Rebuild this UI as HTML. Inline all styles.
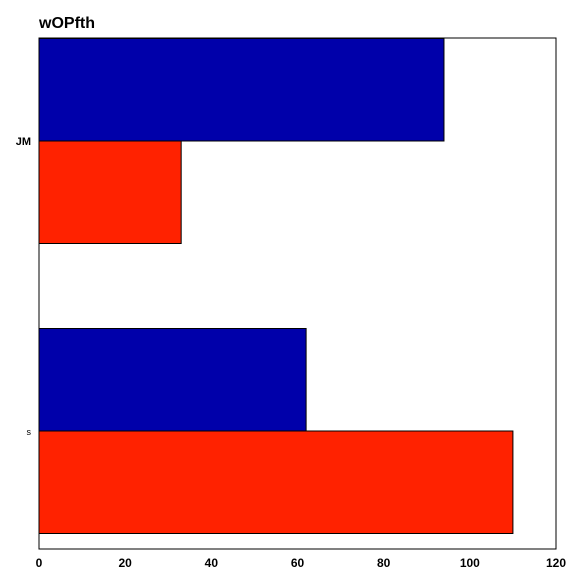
<!DOCTYPE html>
<html><head><meta charset="utf-8"><style>
body{margin:0;background:#fff;}
svg{display:block;font-family:"Liberation Sans",Arial,sans-serif;}
</style></head><body>
<svg id="chart" width="584" height="584">
<text x="39" y="28" font-size="16" font-weight="bold">wOPfth</text>
<g id="bars"></g>
<rect x="39" y="38" width="517" height="511" fill="none" stroke="#000" stroke-width="1"/>
<g id="xt"></g><g id="yt"></g>
</svg>
<script>
const categories = ["JM", "s"];
const seriesBlue = [94, 62];
const seriesRed = [33, 110];
const xTicks = [0, 20, 40, 60, 80, 100, 120];
const X0 = 39, X1 = 556, Y0 = 38, Y1 = 549;
const xMax = 120;
const xs = v => X0 + v / xMax * (X1 - X0);
const bandH = (Y1 - Y0) / (categories.length - 0.24);
const cy = i => Y0 + 103 + i * 290;
const ns = "http://www.w3.org/2000/svg";
const bars = document.getElementById('bars');
const bh = 102.5;
categories.forEach((c, i) => {
  [[seriesBlue, '#0000aa', -bh, 'blue'], [seriesRed, '#ff2200', 0, 'red']].forEach(([arr, col, off, nm]) => {
    const r = document.createElementNS(ns, 'rect');
    r.setAttribute('x', xs(0));
    r.setAttribute('y', cy(i) + off);
    r.setAttribute('width', xs(arr[i]) - xs(0));
    r.setAttribute('height', bh);
    r.setAttribute('fill', col);
    r.setAttribute('stroke', '#000');
    r.setAttribute('stroke-width', '1');
    
    
    bars.appendChild(r);
  });
  const t = document.createElementNS(ns, 'text');
  t.setAttribute('x', 31);
  t.setAttribute('y', cy(i) + 4);
  t.setAttribute('text-anchor', 'end');
  t.setAttribute('font-size', c === 's' ? '9' : '11');
  t.setAttribute('font-weight', c === 's' ? 'normal' : 'bold');
  t.textContent = c;
  
  
  document.getElementById('yt').appendChild(t);
});
xTicks.forEach(v => {
  const t = document.createElementNS(ns, 'text');
  t.setAttribute('x', xs(v));
  t.setAttribute('y', 567);
  t.setAttribute('text-anchor', 'middle');
  t.setAttribute('font-size', '12');
  t.setAttribute('font-weight', 'bold');
  t.textContent = v;
  
  
  document.getElementById('xt').appendChild(t);
});
</script>
</body></html>
